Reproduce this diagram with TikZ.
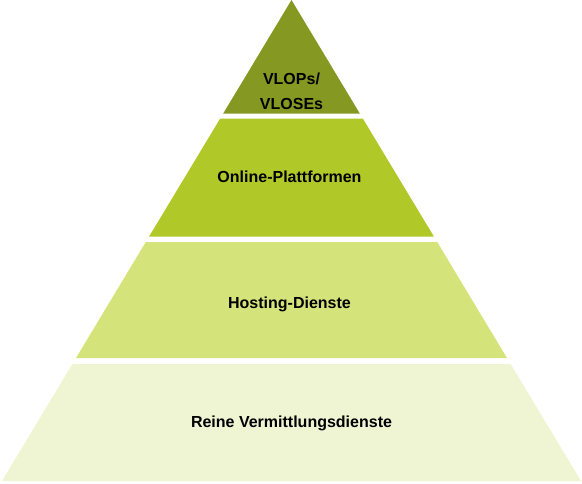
\documentclass[tikz,border=0pt]{standalone}
\usepackage{fontspec}
\setmainfont{Liberation Sans}
\definecolor{lay1}{RGB}{133,153,34}
\definecolor{lay2}{RGB}{176,200,40}
\definecolor{lay3}{RGB}{212,228,122}
\definecolor{lay4}{RGB}{239,245,210}
\begin{document}
\begin{tikzpicture}[x=1pt,y=-1pt,
  layer/.style={draw=none},
  lbl/.style={font=\fontsize{16}{25}\selectfont\bfseries, align=center, inner sep=0pt, text=black}]
\path[use as bounding box] (0,0) rectangle (582,483);
% layers (image coordinates, y downward)
\fill[layer, lay1] (291.5,0) -- (359.8,113.5) -- (223.2,113.5) -- cycle;
\fill[layer, lay2] (220.2,118.5) -- (362.8,118.5) -- (434.0,236.7) -- (149.0,236.7) -- cycle;
\fill[layer, lay3] (145.8,242) -- (437.2,242) -- (507.0,358) -- (76.0,358) -- cycle;
\fill[layer, lay4] (72.4,364) -- (510.6,364) -- (581.0,481) -- (2.0,481) -- cycle;
% labels
\node[lbl, anchor=center] (t1) at (291.5,91) {VLOPs/\\VLOSEs};
\node[lbl, anchor=base] (t2) at (289.5,182) {Online-Plattformen};
\node[lbl, anchor=base] (t3) at (289.5,308) {Hosting-Dienste};
\node[lbl, anchor=base] (t4) at (291.5,427.5) {Reine Vermittlungsdienste};
\end{tikzpicture}
\end{document}
